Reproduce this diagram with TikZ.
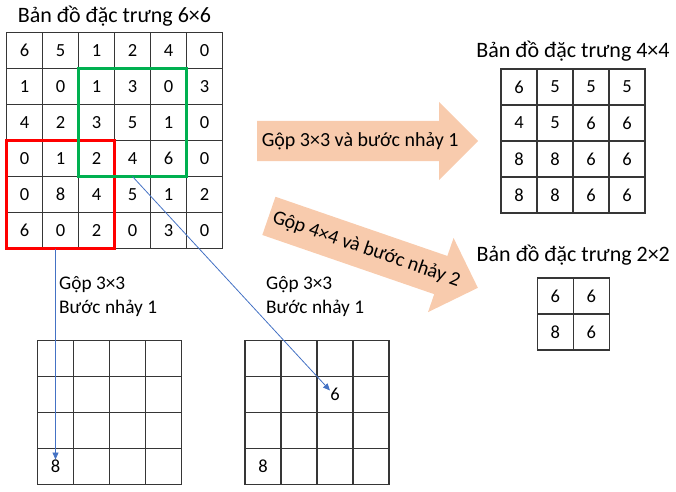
\documentclass[tikz,border=0pt]{standalone}
\usepackage{fontspec}
\setmainfont{Carlito}
\definecolor{mapaGris}{HTML}{363636}
\definecolor{mapaDurazno}{HTML}{F8CBAD}
\definecolor{mapaAzul}{HTML}{4472C4}
\definecolor{mapaRojo}{HTML}{FF0000}
\definecolor{mapaVerde}{HTML}{00B050}
\usetikzlibrary{
	arrows.meta,
	positioning,
	calc,
	matrix,
	fit,
	shapes.arrows
}
\tikzset{
	celda/.style={
		draw=mapaGris,
		line width=1.3pt,
		minimum size=36pt,
		inner sep=0pt,
		outer sep=0pt,
		anchor=center,
		font=\fontsize{18.5}{22}\selectfont
	},
	mapa/.style={
		matrix of nodes,
		nodes={celda},
		nodes in empty cells,
		column sep=-1.3pt,
		row sep=-1.3pt,
		inner sep=0pt
	},
	titulo/.style={
		inner sep=0pt,
		font=\fontsize{22}{26}\selectfont
	},
	etiqueta/.style={
		align=left,
		inner sep=0pt,
		font=\fontsize{19.3}{24}\selectfont
	},
	flechaGrande/.style={
		single arrow,
		fill=mapaDurazno,
		minimum height=221pt,
		inner xsep=0pt,
		inner ysep=20pt,
		single arrow head extend=19pt,
		single arrow tip angle=90
	},
	textoFlecha/.style={
		inner sep=0pt,
		font=\fontsize{20}{24}\selectfont
	},
	ventanaRoja/.style={
		draw=mapaRojo,
		line width=3pt,
		inner sep=0pt,
		outer sep=0pt
	},
	ventanaVerde/.style={
		draw=mapaVerde,
		line width=3pt,
		inner sep=0pt,
		outer sep=0pt
	},
	flechaAzul/.style={
		-{Triangle[length=7pt,width=6pt]},
		line width=0.8pt,
		mapaAzul
	}
}
\begin{document}
\begin{tikzpicture}[x=1pt, y=-1pt]
		\useasboundingbox (0,0) rectangle (676,491);
		% mapa de entrada
		\matrix[mapa] (m6) at (114.5,140.5) {
			6 & 5 & 1 & 2 & 4 & 0 \\
			1 & 0 & 1 & 3 & 0 & 3 \\
			4 & 2 & 3 & 5 & 1 & 0 \\
			0 & 1 & 2 & 4 & 6 & 0 \\
			0 & 8 & 4 & 5 & 1 & 2 \\
			6 & 0 & 2 & 0 & 3 & 0 \\
		};
		\node[titulo, above=5pt of m6] (t6) {Bản đồ đặc trưng 6×6};
		\node[ventanaRoja, fit=(m6-4-1) (m6-6-3)] (rojo) {};
		\node[ventanaVerde, fit=(m6-2-3) (m6-4-5)] (verde) {};
		% salidas
		\matrix[mapa] (m4) at (573,141) {
			6 & 5 & 5 & 5 \\
			4 & 5 & 6 & 6 \\
			8 & 8 & 6 & 6 \\
			8 & 8 & 6 & 6 \\
		};
		\node[titulo, above=7pt of m4] (t4) {Bản đồ đặc trưng 4×4};
		\matrix[mapa] (m2) at (573.3,314) {
			6 & 6 \\
			8 & 6 \\
		};
		\node[titulo, above=11.5pt of m2] (t2) {Bản đồ đặc trưng 2×2};
		% flechas grandes
		\node[flechaGrande, anchor=tail] (g1) at (257,141) {};
		\node[textoFlecha] at ($(g1.tail)!0.466!(g1.tip)$) {Gộp 3×3 và bước nhảy 1};
		\node[flechaGrande, anchor=tail, rotate=-19] (g2) at (268.7,215.8) {};
		\node[textoFlecha, rotate=-19] at ($(g2.tail)!0.466!(g2.tip)$) {Gộp 4×4 và bước nhảy 2};
		% mapas de abajo
		\matrix[mapa] (pa) at (109.5,412.5) {
			  &   &   &   \\
			  &   &   &   \\
			  &   &   &   \\
			8 &   &   &   \\
		};
		\matrix[mapa] (pb) at (317,412.5) {
			  &   &   &   \\
			  &   & 6 &   \\
			  &   &   &   \\
			8 &   &   &   \\
		};
		\node[etiqueta, anchor=north west] (la) at (59,276) {Gộp 3×3\\Bước nhảy 1};
		\node[etiqueta, anchor=north west] (lb) at (266,276) {Gộp 3×3\\Bước nhảy 1};
		\draw[flechaAzul] (pa-4-1.center |- rojo.south) -- ([yshift=7pt]pa-4-1.center);
		\draw[flechaAzul] (verde.south) -- ([shift={(-5pt,4pt)}]pb-2-3.center);
	\end{tikzpicture}
\end{document}
